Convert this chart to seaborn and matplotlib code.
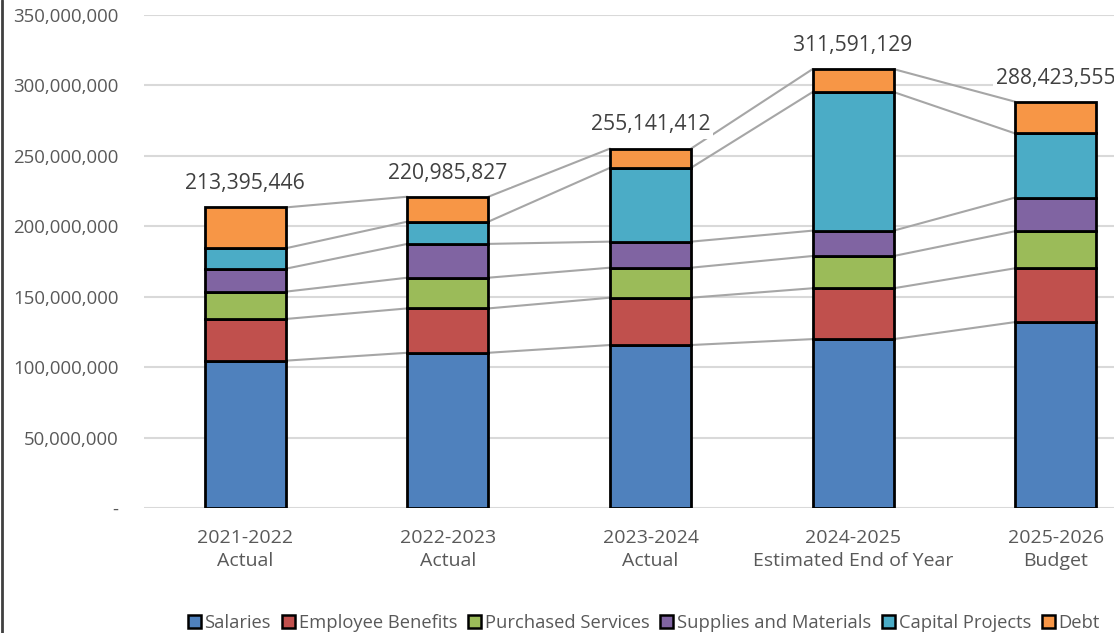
import matplotlib
matplotlib.use("Agg")
import matplotlib.pyplot as plt
import seaborn as sns
import numpy as np
from matplotlib.patches import Patch
from matplotlib.ticker import FuncFormatter
from matplotlib.lines import Line2D

# ---- data (millions) ----
categories = ["2021-2022\nActual", "2022-2023\nActual", "2023-2024\nActual",
              "2024-2025\nEstimated End of Year", "2025-2026\nBudget"]
series_names = ["Salaries", "Employee Benefits", "Purchased Services",
                "Supplies and Materials", "Capital Projects", "Debt"]
salaries = [104.6, 110.2, 115.7, 119.9, 132.0]
benefits = [29.6, 31.5, 33.6, 36.1, 38.2]
purchased = [19.4, 21.8, 21.3, 22.9, 26.3]
supplies = [16.3, 24.0, 18.5, 18.0, 23.9]
capital = [14.5, 15.8, 52.4, 98.4, 45.5]
debt = [28.995446, 17.685827, 13.641412, 16.291129, 22.523555]
totals = [213395446, 220985827, 255141412, 311591129, 288423555]
total_labels = ["213,395,446", "220,985,827", "255,141,412", "311,591,129", "288,423,555"]
colors = ["#4F81BD", "#C0504D", "#9BBB59", "#8064A2", "#4BACC6", "#F79646"]

sns.set_theme(style="white")
plt.rcParams["font.family"] = ["Open Sans", "DejaVu Sans"]

fig = plt.figure(figsize=(11.14, 6.33), dpi=100)
ax = fig.add_axes([144 / 1114, 125 / 633, 1013 / 1114, 493 / 633])

data = [salaries, benefits, purchased, supplies, capital, debt]
bottom = np.zeros(len(categories))
tops = []
for vals, col in zip(data, colors):
    v = np.array(vals) * 1e6
    sns.barplot(x=categories, y=v, bottom=bottom, color=col, edgecolor="black",
                linewidth=2.0, width=0.4, errorbar=None, saturation=1, ax=ax, zorder=3)
    bottom = bottom + v
    tops.append(bottom.copy())

# series connector lines
hw = 0.2
for t in tops:
    for i in range(len(categories) - 1):
        ax.plot([i + hw, i + 1 - hw], [t[i], t[i + 1]], color="#A6A6A6", lw=1.5, zorder=2)

# total labels
for i, (tv, lab) in enumerate(zip(totals, total_labels)):
    ax.annotate(lab, (i, tv), xytext=(0, 9.5), textcoords="offset points",
                ha="center", va="bottom", fontsize=15.2, color="#404040", zorder=5,
                bbox=dict(boxstyle="square,pad=0.15", fc="white", ec="none"))

ax.set_xlim(-0.5, 4.5)
ax.set_ylim(0, 350e6)
ax.set_yticks(np.arange(0, 350e6 + 1, 50e6))
ax.yaxis.set_major_formatter(FuncFormatter(lambda v, p: "-" if v == 0 else f"{v:,.0f}"))
ax.grid(axis="y", color="#D9D9D9", lw=1.5, zorder=0)
ax.set_axisbelow(True)
for s in ax.spines.values():
    s.set_visible(False)
ax.tick_params(axis="x", length=0, labelsize=14, colors="#595959", pad=15)
ax.tick_params(axis="y", length=0, labelsize=13.4, colors="#595959", pad=18.5)
ax.set_xlabel("")
ax.set_ylabel("")
for lab in ax.get_xticklabels():
    lab.set_linespacing(1.35)

handles = [Patch(facecolor=c, edgecolor="black", linewidth=1.8) for c in colors]
fig.legend(handles, series_names, loc="center", bbox_to_anchor=(0.578, 0.016), ncol=6,
           frameon=False, fontsize=13.2, handlelength=0.7, handleheight=0.7,
           handletextpad=0.2, columnspacing=0.6, labelcolor="#595959")

fig.add_artist(Line2D([1.5 / 1114, 1.5 / 1114], [0, 1], transform=fig.transFigure,
                      color="#404040", lw=2))

fig.savefig("out.png", dpi=100)
